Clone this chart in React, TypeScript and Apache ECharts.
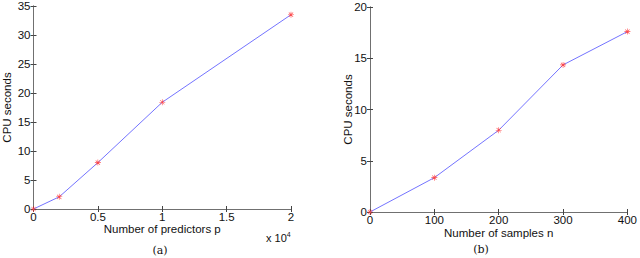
import React, { useEffect, useRef } from "react";
import * as echarts from "echarts";

const predictorsX = [0, 0.2, 0.5, 1, 2]; // in units of 1e4
const predictorsCpu = [0, 2.1, 8.0, 18.4, 33.5];
const samplesX = [0, 100, 200, 300, 400];
const samplesCpu = [0, 3.35, 7.98, 14.35, 17.6];

const ASTERISK =
  "path://M-1,-10L1,-10L1,10L-1,10Z M-10,-1L10,-1L10,1L-10,1Z M-7.8,-6.4L-6.4,-7.8L7.8,6.4L6.4,7.8Z M6.4,-7.8L7.8,-6.4L-6.4,7.8L-7.8,6.4Z";

const FONT = "Liberation Sans";
const AXIS_COLOR = "#707070";

function axisPair(
  gridIndex: number,
  kind: "x" | "y",
  min: number,
  max: number,
  interval: number,
  name: string,
  nameGap: number,
  labelMargin: number
) {
  const common = {
    gridIndex,
    type: "value" as const,
    min,
    max,
    interval,
    splitLine: { show: false },
    axisLine: { show: true, lineStyle: { color: AXIS_COLOR, width: 1 } },
    axisTick: { show: true, inside: true, length: 3, lineStyle: { color: "#444", width: 1 } },
  };
  const main = {
    ...common,
    position: kind === "x" ? "bottom" : "left",
    name,
    nameLocation: "middle",
    nameGap,
    nameMoveOverlap: false,
    nameTextStyle: { fontFamily: FONT, fontSize: 11.5, color: "#111", lineHeight: 11 },
    axisLabel: { show: true, fontFamily: FONT, fontSize: 11.5, color: "#111", margin: labelMargin, lineHeight: 11 },
  };
  const other = {
    ...common,
    position: kind === "x" ? "top" : "right",
    axisLabel: { show: false },
  };
  return [main, other];
}

export default function App() {
  const ref = useRef<HTMLDivElement>(null);
  useEffect(() => {
    if (!ref.current) return;
    const chart = echarts.init(ref.current, undefined, { renderer: "svg" });
    const xAxes = [
      ...axisPair(0, "x", 0, 2, 0.5, "Number of predictors p", 14.5, 2),
      ...axisPair(1, "x", 0, 400, 100, "Number of samples n", 15.5, 2.5),
    ];
    const yAxes = [
      ...axisPair(0, "y", 0, 35, 5, "CPU seconds", 21, 3),
      ...axisPair(1, "y", 0, 20, 5, "CPU seconds", 17, 3),
    ];
    const lineSeries = (xi: number, yi: number, xs: number[], ys: number[]) => ({
      type: "line",
      xAxisIndex: xi,
      yAxisIndex: yi,
      data: xs.map((x, i) => [x, ys[i]]),
      symbol: ASTERISK,
      symbolSize: 6,
      showAllSymbol: true,
      lineStyle: { color: "#7474ff", width: 1 },
      itemStyle: { color: "#ff3b3b", opacity: 0.9 },
      clip: false,
      z: 3,
    });
    chart.setOption({
      animation: false,
      grid: [
        { left: 30, top: 3, width: 261, height: 206, show: false },
        { left: 370, top: 7, width: 261, height: 205, show: false },
      ],
      xAxis: xAxes,
      yAxis: yAxes,
      series: [lineSeries(0, 0, predictorsX, predictorsCpu), lineSeries(2, 2, samplesX, samplesCpu)],
      graphic: [
        {
          type: "text",
          left: 266,
          top: 231,
          style: {
            text: "x 10{sup|4}",
            fontFamily: FONT,
            fontSize: 11,
            fill: "#111",
            rich: { sup: { fontSize: 7, fontFamily: FONT, verticalAlign: "top", padding: [0, 0, 6, 0] } },
          },
        },
        {
          type: "text",
          x: 160,
          y: 250,
          style: { text: "(a)", fontFamily: "DejaVu Serif", fontSize: 11, fill: "#111", align: "center", verticalAlign: "middle" },
        },
        {
          type: "text",
          x: 481,
          y: 249,
          style: { text: "(b)", fontFamily: "DejaVu Serif", fontSize: 11, fill: "#111", align: "center", verticalAlign: "middle" },
        },
      ],
    });
    return () => chart.dispose();
  }, []);
  return (
    <div
      ref={ref}
      style={{ position: "fixed", left: 0, top: 0, width: 640, height: 258, background: "#fff" }}
    />
  );
}
